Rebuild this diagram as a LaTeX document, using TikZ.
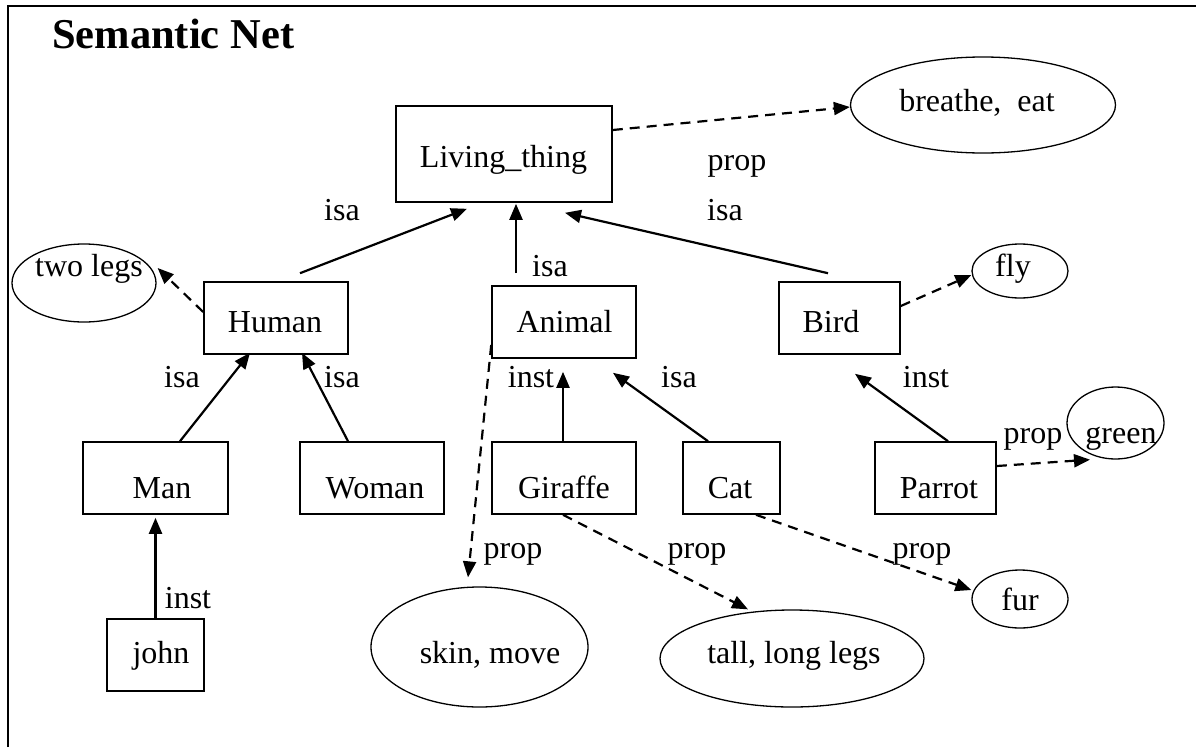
\documentclass[tikz,border=0pt]{standalone}
\usepackage{fontspec}
\setmainfont{Liberation Serif}
\usetikzlibrary{arrows.meta,shapes.geometric}
\tikzset{
  box/.style={draw, line width=1.6pt, rectangle, inner sep=0pt},
  oval/.style={draw, line width=1.3pt, ellipse, inner sep=0pt},
  txt/.style={font=\fontsize{32}{38}\selectfont, inner sep=0pt, anchor=base},
  title/.style={font=\fontsize{42.5}{50}\selectfont\bfseries, inner sep=0pt, anchor=base west},
  rel/.style={line width=2.2pt, -{Triangle[length=16pt,width=13pt]}},
  proprel/.style={line width=2.2pt, dash pattern=on 10pt off 7pt, -{Triangle[length=16pt,width=13pt]}},
}
\begin{document}
\begin{tikzpicture}[x=1pt,y=-1pt]
\useasboundingbox (0,0) rectangle (1196,747);
% frame
\draw[line width=1.8pt] (8,747) -- (8,6);
\draw[line width=2.8pt] (7.1,6) -- (1196,6);
\node[title] (ttl) at (52,48) {Semantic Net};

% boxes
\node[box, minimum width=216pt, minimum height=96pt] (living) at (504,154) {};
\node[box, minimum width=144pt, minimum height=72pt] (human) at (276,318) {};
\node[box, minimum width=144pt, minimum height=72pt] (animal) at (564,322) {};
\node[box, minimum width=121pt, minimum height=72pt] (bird) at (839.5,318) {};
\node[box, minimum width=145pt, minimum height=72pt] (man) at (155.5,478) {};
\node[box, minimum width=144pt, minimum height=72pt] (woman) at (372,478) {};
\node[box, minimum width=144pt, minimum height=72pt] (giraffe) at (564,478) {};
\node[box, minimum width=97pt, minimum height=72pt] (cat) at (731.5,478) {};
\node[box, minimum width=121pt, minimum height=72pt] (parrot) at (935.5,478) {};
\node[box, minimum width=97pt, minimum height=72pt] (john) at (155.5,655) {};

% ellipses
\node[oval, minimum width=265pt, minimum height=96pt] (breathe) at (983,105) {};
\node[oval, minimum width=144pt, minimum height=78pt] (twolegs) at (84,283) {};
\node[oval, minimum width=96pt, minimum height=54pt] (fly) at (1020,271) {};
\node[oval, minimum width=97pt, minimum height=72pt] (green) at (1115.5,423) {};
\node[oval, minimum width=217pt, minimum height=120pt] (skin) at (479.5,647) {};
\node[oval, minimum width=264pt, minimum height=97pt] (tall) at (792,658.5) {};
\node[oval, minimum width=96pt, minimum height=58pt] (fur) at (1020,599) {};

% node texts
\node[txt] (livingT) at (503.5,167) {Living\_thing};
\node[txt] (humanT) at (275,332) {Human};
\node[txt] (animalT) at (564.5,332) {Animal};
\node[txt] (birdT) at (831,332) {Bird};
\node[txt] (manT) at (162,498) {Man};
\node[txt] (womanT) at (375,498) {Woman};
\node[txt] (giraffeT) at (564,498) {Giraffe};
\node[txt] (catT) at (730,498) {Cat};
\node[txt] (parrotT) at (939,498) {Parrot};
\node[txt] (johnT) at (161,663) {john};
\node[txt] (breatheT) at (977,111) {breathe,\ \ eat};
\node[txt] (twolegsT) at (89,276) {two legs};
\node[txt] (flyT) at (1013,276) {fly};
\node[txt] (greenT) at (1121,443) {green};
\node[txt] (skinT) at (490,663) {skin, move};
\node[txt] (tallT) at (794,663) {tall, long legs};
\node[txt] (furT) at (1020,610) {fur};

% connectors
\draw[proprel] ([yshift=24pt]living.east) -- ([yshift=-2pt]breathe.west);
\draw[rel] ([xshift=24pt,yshift=8pt]human.north) -- ([xshift=-37pt,yshift=-6pt]living.south);
\draw[rel] ([xshift=-48pt,yshift=12pt]animal.north) -- ([xshift=12pt,yshift=-1pt]living.south);
\draw[rel] ([xshift=-11.5pt,yshift=8pt]bird.north) -- ([xshift=61pt,yshift=-10pt]living.south);
\draw[proprel] ([yshift=6pt]human.west) -- ([xshift=1pt,yshift=15pt]twolegs.east);
\draw[rel] ([xshift=24.5pt]man.north) -- ([xshift=-26pt,yshift=2pt]human.south);
\draw[rel] ([xshift=-24pt]woman.north) -- ([xshift=26pt,yshift=2pt]human.south);
\draw[rel] (john.north) -- ([yshift=-3pt]man.south);
\draw[proprel] ([yshift=-23pt]animal.west) -- ([xshift=-11.5pt,yshift=9pt]skin.north);
\draw[rel] ([xshift=-1pt]giraffe.north) -- ([xshift=-1pt,yshift=-13pt]animal.south);
\draw[rel] ([xshift=-23.5pt]cat.north) -- ([xshift=49pt,yshift=-14pt]animal.south);
\draw[proprel] ([xshift=-1pt]giraffe.south) -- ([xshift=-44pt]tall.north);
\draw[proprel] ([xshift=24.5pt]cat.south) -- ([yshift=9pt]fur.west);
\draw[proprel] ([yshift=12pt]bird.east) -- ([yshift=-4pt]fly.west);
\draw[rel] ([xshift=12.5pt]parrot.north) -- ([xshift=15.5pt,yshift=-19pt]bird.south);
\draw[proprel] ([yshift=12pt]parrot.east) -- ([xshift=-25.5pt]green.south);

% connector labels
\node[txt] (l1) at (342,220) {isa};
\node[txt] (l2) at (737,170) {prop};
\node[txt] (l3) at (725,220) {isa};
\node[txt] (l4) at (550,276) {isa};
\node[txt] (l5) at (182,387) {isa};
\node[txt] (l6) at (342,387) {isa};
\node[txt] (l7) at (531,387) {inst};
\node[txt] (l8) at (679,387) {isa};
\node[txt] (l9) at (926,387) {inst};
\node[txt] (l10) at (1033,443) {prop};
\node[txt] (l11) at (188,608) {inst};
\node[txt] (l12) at (513,558) {prop};
\node[txt] (l13) at (697,558) {prop};
\node[txt] (l14) at (922,558) {prop};
\end{tikzpicture}
\end{document}
